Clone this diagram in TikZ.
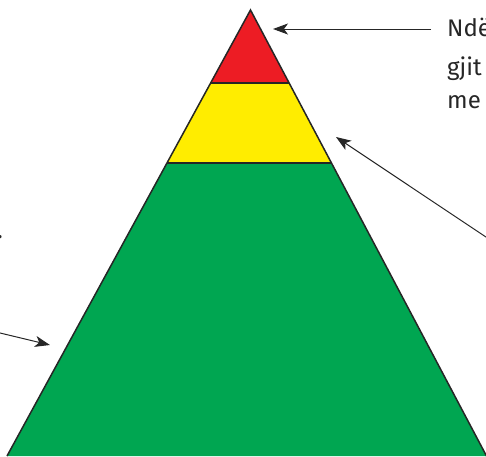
\documentclass[tikz,border=0pt]{standalone}
\usepackage{fontspec}
\setmainfont{Fira Sans}
\usetikzlibrary{arrows.meta}
\definecolor{pred}{HTML}{ED1C24}
\definecolor{pyel}{HTML}{FFED00}
\definecolor{pgrn}{HTML}{00A651}
\definecolor{ink}{HTML}{262626}
\begin{document}
\begin{tikzpicture}[x=1pt,y=-1pt,
  layer/.style={draw=black!85,line width=1.5pt,line join=miter},
  pointer/.style={draw=ink,line width=1pt,-{Stealth[length=15pt,width=11pt,inset=4pt]}},
  lbl/.style={inner sep=0pt,anchor=base west,text=ink,font=\fontsize{24}{28}\selectfont}]
\useasboundingbox (0,0) rectangle (486,456);
\clip (0,0) rectangle (486,456);
% pyramid corners
\coordinate (A) at (250.5,10);
\coordinate (RL) at (210.2,83);
\coordinate (RR) at (289.1,83);
\coordinate (YL) at (166.6,163);
\coordinate (YR) at (331.2,163);
\coordinate (BL) at (7,456);
\coordinate (BR) at (486.5,456);
\fill[pgrn] (YL) -- (YR) -- (BR) -- (BL) -- cycle;
\fill[pyel] (RL) -- (RR) -- (YR) -- (YL) -- cycle;
\fill[pred] (A) -- (RR) -- (RL) -- cycle;
\draw[layer] (RL) -- (RR);
\draw[layer] (YL) -- (YR);
\draw[layer] (BL) -- (A) -- (BR);
% labels
\node[lbl] (t1) at (447,36) {Ndë};
\node[lbl] (t2) at (447,75) {gjit};
\node[lbl] (t3) at (447,108) {me};
\node[lbl,anchor=base east] (t4) at (3,238) {.};
% arrows
\coordinate (s1) at (431,29);
\coordinate (e1) at (273,29);
\coordinate (s2) at (490,239.7);
\coordinate (e2) at (336,137);
\coordinate (s3) at (-2,332.5);
\coordinate (e3) at (50,345);
\draw[pointer] (s1) -- (e1);
\draw[pointer] (s2) -- (e2);
\draw[pointer] (s3) -- (e3);
\end{tikzpicture}
\end{document}
